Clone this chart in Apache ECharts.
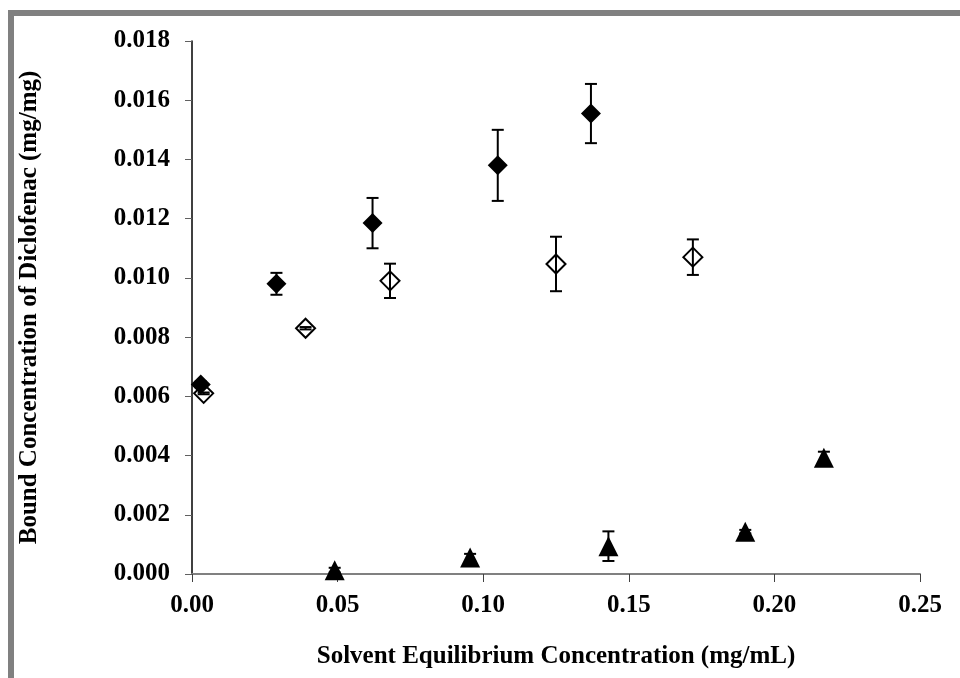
<!DOCTYPE html>
<html>
<head>
<meta charset="utf-8">
<script src="https://cdn.jsdelivr.net/npm/echarts@6/dist/echarts.min.js"></script>
<style>html,body{margin:0;padding:0;background:#fff}#c{width:960px;height:678px}</style>
</head>
<body>
<div id="c"></div>
<script>
// Data
var xTicks = [0.00, 0.05, 0.10, 0.15, 0.20, 0.25];
var yTicks = [0.000, 0.002, 0.004, 0.006, 0.008, 0.010, 0.012, 0.014, 0.016, 0.018];

var filledX   = [0.003, 0.029, 0.062, 0.105, 0.137];
var filledY   = [0.0064, 0.0098, 0.01185, 0.0138, 0.01555];
var filledErr = [0.0001, 0.00037, 0.00085, 0.0012, 0.001];

var openX   = [0.004, 0.039, 0.068, 0.125, 0.172];
var openY   = [0.0061, 0.0083, 0.0099, 0.01047, 0.0107];
var openErr = [0.00003, 0.00004, 0.00058, 0.00092, 0.0006];

var triX   = [0.049, 0.0955, 0.143, 0.190, 0.217];
var triY   = [0.00013, 0.00056, 0.00094, 0.00143, 0.00393];
var triErr = [0.00008, 0.00012, 0.0005, 0.00006, 0.0002];

function pts(xs, ys) { return xs.map(function (x, i) { return [x, ys[i]]; }); }
function errs(xs, ys, es) { return xs.map(function (x, i) { return [x, ys[i] - es[i], ys[i] + es[i]]; }); }

function errRender(params, api) {
  var x = api.value(0), lo = api.value(1), hi = api.value(2);
  var pLo = api.coord([x, lo]), pHi = api.coord([x, hi]);
  var cw = 6;
  var st = { stroke: '#000', lineWidth: 2 };
  return {
    type: 'group',
    children: [
      { type: 'line', shape: { x1: pLo[0], y1: pLo[1], x2: pHi[0], y2: pHi[1] }, style: st },
      { type: 'line', shape: { x1: pLo[0] - cw, y1: pLo[1], x2: pLo[0] + cw, y2: pLo[1] }, style: st },
      { type: 'line', shape: { x1: pHi[0] - cw, y1: pHi[1], x2: pHi[0] + cw, y2: pHi[1] }, style: st }
    ]
  };
}

var font = '"Liberation Serif", "Times New Roman", serif';
var chart = echarts.init(document.getElementById('c'), null, { renderer: 'canvas' });
chart.setOption({
  animation: false,
  backgroundColor: '#fff',
  graphic: [
    { type: 'rect', shape: { x: 8, y: 10, width: 960, height: 6 }, style: { fill: '#808080' }, z: 100 },
    { type: 'rect', shape: { x: 8, y: 10, width: 6, height: 680 }, style: { fill: '#808080' }, z: 100 }
  ],
  grid: { left: 192, right: 40, top: 41, bottom: 104 },
  xAxis: {
    type: 'value', min: 0, max: 0.25, interval: 0.05,
    name: 'Solvent Equilibrium Concentration (mg/mL)',
    nameLocation: 'middle', nameGap: 70,
    nameTextStyle: { fontFamily: font, fontWeight: 'bold', fontSize: 25, color: '#000' },
    axisLine: { show: true, onZero: false, lineStyle: { color: '#808080', width: 2 } },
    axisTick: { show: true, inside: false, length: 8, lineStyle: { color: '#404040', width: 1 } },
    axisLabel: { margin: 19, fontFamily: font, fontWeight: 'bold', fontSize: 25, color: '#000',
      formatter: function (v) { return v.toFixed(2); } },
    splitLine: { show: false }
  },
  yAxis: {
    type: 'value', min: 0, max: 0.018, interval: 0.002,
    name: 'Bound Concentration of Diclofenac (mg/mg)',
    nameLocation: 'middle', nameGap: 150,
    nameTextStyle: { fontFamily: font, fontWeight: 'bold', fontSize: 25, color: '#000' },
    axisLine: { show: true, onZero: false, lineStyle: { color: '#000', width: 1.5 } },
    axisTick: { show: true, inside: false, length: 7, lineStyle: { color: '#606060', width: 1 } },
    axisLabel: { margin: 22, fontFamily: font, fontWeight: 'bold', fontSize: 25, color: '#000',
      formatter: function (v) { return v.toFixed(3); } },
    splitLine: { show: false }
  },
  series: [
    { type: 'scatter', name: 'open', data: pts(openX, openY), symbol: 'diamond', symbolSize: [19, 19],
      itemStyle: { color: '#fff', borderColor: '#000', borderWidth: 2, opacity: 1 }, z: 2 },
    { type: 'scatter', name: 'filled', data: pts(filledX, filledY), symbol: 'diamond', symbolSize: [20, 20],
      itemStyle: { color: '#000', borderColor: '#000', borderWidth: 0, opacity: 1 }, z: 3 },
    { type: 'scatter', name: 'triangle', data: pts(triX, triY), symbol: 'triangle', symbolSize: [20, 20],
      itemStyle: { color: '#000', opacity: 1 }, z: 3 },
    { type: 'custom', data: errs(openX, openY, openErr), renderItem: errRender, z: 5 },
    { type: 'custom', data: errs(filledX, filledY, filledErr), renderItem: errRender, z: 5 },
    { type: 'custom', data: errs(triX, triY, triErr), renderItem: errRender, z: 5 }
  ]
});
</script>
</body>
</html>
